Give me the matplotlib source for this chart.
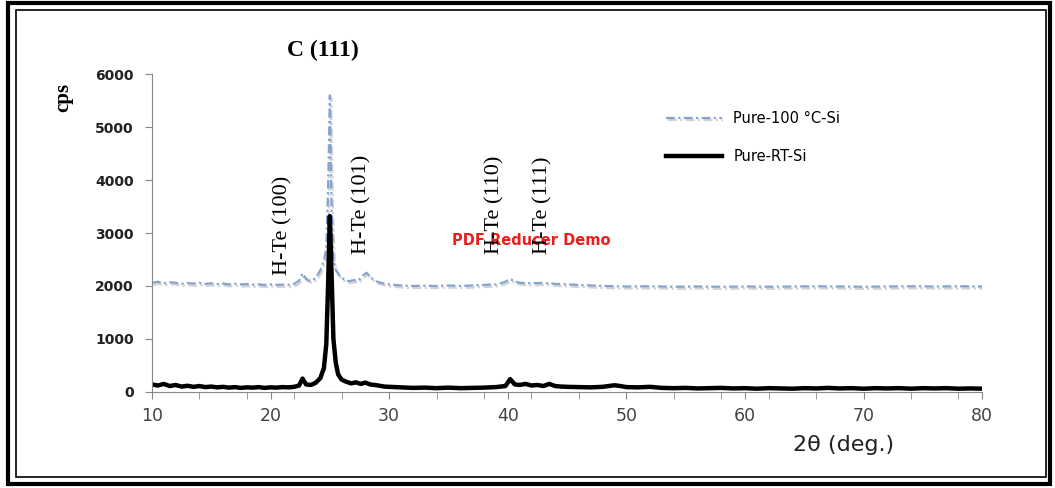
import numpy as np
import matplotlib
matplotlib.use('Agg')
import matplotlib.pyplot as plt
import matplotlib.patheffects as pe
from matplotlib.patches import Rectangle

# values (2-theta in degrees, counts per second)
rt_theta = [10, 10.5, 11, 11.5, 12, 12.5, 13, 13.5, 14, 14.5, 15, 15.5, 16, 16.5, 17, 17.5,
            18, 18.5, 19, 19.5, 20, 20.5, 21, 21.5, 22, 22.4, 22.7, 23.0, 23.4, 23.8, 24.2,
            24.5, 24.7, 24.85, 25.0, 25.15, 25.3, 25.5, 25.7, 26.0, 26.4, 26.8, 27.2, 27.6,
            28.0, 28.4, 28.8, 29.2, 29.6, 30, 31, 32, 33, 34, 35, 36, 37, 38, 39, 39.8, 40.2,
            40.6, 41, 41.5, 42, 42.5, 43, 43.5, 44, 44.5, 45, 46, 47, 48, 49, 49.5, 50, 51, 52,
            53, 54, 55, 56, 57, 58, 59, 60, 61, 62, 63, 64, 65, 66, 67, 68, 69, 70, 71, 72, 73,
            74, 75, 76, 77, 78, 79, 80]
rt_cps = [140, 120, 150, 110, 130, 100, 115, 95, 110, 90, 100, 85, 95, 80, 90, 75,
          85, 80, 90, 75, 85, 80, 90, 85, 95, 120, 250, 140, 130, 170, 260,
          450, 900, 2000, 3320, 2200, 1000, 550, 330, 230, 190, 160, 180, 150,
          175, 140, 130, 115, 100, 95, 85, 75, 80, 70, 80, 70, 75, 80, 90, 110, 240,
          140, 130, 150, 120, 130, 110, 150, 110, 100, 95, 90, 85, 95, 125, 110, 90, 85, 95,
          75, 70, 75, 65, 70, 75, 65, 70, 60, 70, 65, 60, 70, 65, 75, 65, 70, 60, 70, 65, 70,
          60, 70, 65, 70, 60, 65, 60]

hot_theta = [10, 10.5, 11, 11.5, 12, 12.5, 13, 13.5, 14, 14.5, 15, 15.5, 16, 16.5, 17, 17.5,
             18, 18.5, 19, 19.5, 20, 20.5, 21, 21.5, 22, 22.4, 22.7, 23.0, 23.4, 23.8, 24.2,
             24.5, 24.7, 24.85, 25.0, 25.15, 25.3, 25.5, 25.8, 26.2, 26.6, 27.0, 27.4, 27.8,
             28.1, 28.5, 29, 29.5, 30, 31, 32, 33, 34, 35, 36, 37, 38, 39, 39.7, 40.2, 40.7,
             41, 42, 43, 44, 45, 46, 47, 48, 49, 50, 52, 54, 56, 58, 60, 62, 64, 66, 68, 70,
             72, 74, 76, 78, 80]
hot_cps = [2060, 2080, 2050, 2070, 2060, 2040, 2055, 2045, 2060, 2040, 2050, 2035, 2045, 2030,
           2040, 2030, 2035, 2025, 2030, 2020, 2030, 2020, 2025, 2020, 2040, 2100, 2240, 2130,
           2090, 2150, 2300, 2480, 2700, 3800, 5600, 3400, 2500, 2300, 2200, 2120, 2090, 2110,
           2100, 2200, 2250, 2150, 2080, 2050, 2030, 2010, 2000, 2005, 2000, 2010, 2000, 2010,
           2020, 2030, 2070, 2130, 2080, 2060, 2050, 2060, 2040, 2030, 2020, 2010, 2000, 1995,
           1990, 1995, 1985, 1990, 1985, 1990, 1985, 1990, 1995, 1990, 1985, 1990, 1995, 1990,
           1995, 1990]

peak_labels = ['H-Te (100)', 'H-Te (101)', 'H-Te (110)', 'H-Te (111)']
peak_label_x = [21.0, 27.7, 38.9, 43.0]
peak_label_y = [2200, 2600, 2600, 2600]

fig = plt.figure(figsize=(10.55, 4.88), dpi=100)
ax = fig.add_axes([0.144, 0.197, 0.787, 0.651])

ax.plot(hot_theta, hot_cps, color='#84a4cf', lw=1.6, linestyle=(0, (4, 1.5, 1, 1.5)),
        label='Pure-100 \u00b0C-Si',
        path_effects=[pe.SimpleLineShadow(offset=(1, -1.5), shadow_color='gray', alpha=0.35),
                      pe.Normal()])
ax.plot(rt_theta, rt_cps, color='black', lw=3.2, label='Pure-RT-Si')

ax.set_xlim(10, 80)
ax.set_ylim(0, 6000)
ax.set_xticks(range(10, 81, 10))
ax.set_xticks(np.arange(14, 80, 4), minor=True)
ax.set_yticks(range(0, 6001, 1000))

for s in ['top', 'right']:
    ax.spines[s].set_visible(False)
ax.spines['left'].set_color('#888888')
ax.spines['bottom'].set_color('#888888')
ax.tick_params(axis='both', which='both', direction='out', color='#888888', length=5)
ax.tick_params(axis='x', labelsize=12.5, labelcolor='#444444', pad=6)
ax.tick_params(axis='y', labelsize=10, labelcolor='#222222', pad=8)
for t in ax.get_yticklabels():
    t.set_fontweight('bold')

ax.legend(loc='upper right', bbox_to_anchor=(0.845, 0.925), frameon=False, fontsize=10.5,
          handlelength=3.8, labelspacing=1.6)

# watermark sits behind the peak labels, as in the source
ax.text(42.0, 2850, 'PDF Reducer Demo', ha='center', va='center', color='#e8201c',
        fontsize=10.5, fontweight='bold', zorder=1)

# peak labels
for lab, px, py in zip(peak_labels, peak_label_x, peak_label_y):
    ax.text(px, py, lab, rotation=90, ha='center', va='bottom', family='Liberation Serif',
            fontsize=16, zorder=3)
ax.text(24.4, 6250, 'C (111)', ha='center', va='bottom', family='Liberation Serif',
        fontsize=17, fontweight='bold', clip_on=False)

fig.text(0.06, 0.80, 'cps', rotation=90, ha='center', va='center', family='Liberation Serif',
         fontsize=15, fontweight='bold')
fig.text(0.80, 0.088, '2\u03b8 (deg.)', ha='center', va='center', fontsize=16,
         color='#222222')

# double frame around the figure
fig.patches.append(Rectangle((0.008, 0.008), 0.987, 0.985, transform=fig.transFigure,
                             fill=False, lw=3, ec='black'))
fig.patches.append(Rectangle((0.015, 0.022), 0.976, 0.958, transform=fig.transFigure,
                             fill=False, lw=1.2, ec='black'))

fig.savefig('out.png', dpi=100)
